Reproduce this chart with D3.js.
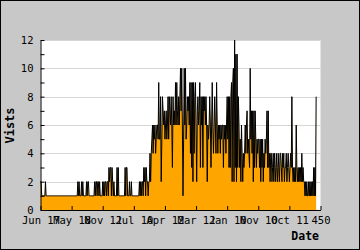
<!DOCTYPE html>
<html><head><meta charset="utf-8">
<script src="https://cdn.jsdelivr.net/npm/d3@7/dist/d3.min.js"></script>
<style>html,body{margin:0;padding:0;background:#fff}svg{display:block}</style>
</head><body>
<svg id="c" width="360" height="250"></svg>
<script>
const xTickValues = [0, 50, 100, 150, 200, 250, 300, 350, 400, 450];
const xTickLabels = ["Jun 17", "May 18", "Nov 12", "Jul 10", "Apr 12", "Mar 12", "Jan 10", "Nov 10", "Oct 11", "450"];
const yTicks = [0, 2, 4, 6, 8, 10, 12];
const yMinorTicks = [1, 3, 5, 7, 9, 11];
const xTitle = "Date";
const yTitle = "Vists";
const visits = [
  2,2,1,1,1,1,1,1,2,1,
  1,1,1,1,1,1,1,1,1,1, 1,1,1,1,1,1,1,1,1,1, 1,1,1,1,1,1,1,1,1,1, 1,1,1,1,1,1,1,1,1,1, 1,1,1,1,1,1,1,1,1,1,
  2,1,2,1,1, 1,2,1,2,1,1, 1,1,1, 2,1,2,2,1,1, 1,1,1,1,1,1,1,
  2,1,2,2,1,2,2,1,2,1, 1,1,1, 2,1,2,1,2,2,1,2,2,1,
  3,2,3,3,1,3,2, 1,2,1,1,1,1, 3,1,3,1, 1,1,1,1,1,1,1,1,1,
  3,1,3,3,1,1, 1, 2,1,1,2,1,1, 1,1,1,1,1,1,1,1,1,1,
  2,1,2,1,2,2,1, 3,2,3,1,3,2, 2,1,2, 2,4,2,4,
  5,6,4,6,5,6,4,5,6, 6,5,9,5, 5,8,2,5,8,7, 6,7,5,6,7,5,6,8,5, 8,
  7,6,8,6,3,8,6,7,6, 9,6,9,7, 6,8,6,8, 10,7,10, 6,1,5, 10,6,10,
  5,6,8,7,8,6, 9,4,9,3,9,2,9,4,8, 9,6,2,7,8,6,7, 9,
  3,8,6,8,3,8,7,8,6, 8,6,2,6,5,6,8, 6,3,6,9, 6,4,6,8,6,4,9,6,4,
  6,5,6,4,6,5,6,6,3,6,5,6,4,6, 8,5,8,3,8, 3,8,9,2,9, 10,2,12,3,
  11,2,11,3,8, 6,3,5,2,6, 4,2,4,3,4, 6,4,6,7,4,5, 4,3, 10,5,
  7,4,7,2,7,3,7, 5,3,5,4,5, 5,3,5,2,5,3,5,2, 4,3,5,4,5, 7,3,7,3, 4,2,4,
  4,2,3,4,2,4,3,2,4,3,2,4,3,2,4, 4,3,2,4,3,4,2,3, 3,4,2,3,4,3,2,3,4,3,
  8,3,2, 3,2,3,2,6, 3,2,3,2,3,2,3,2, 4,2,3,2,
  2,1,2,1,2,1,1,2,1,2, 1,2,1,2,1,3,1,3, 1,8
];

const svg = d3.select("#c");
const W = 360, H = 250;
const L = 40.5, R = 320.5, T = 40, B = 210;
const mono = "'DejaVu Sans Mono', monospace";

svg.append("rect").attr("x",0.5).attr("y",0.5).attr("width",W-1).attr("height",H-1)
  .attr("fill","#c8c8c8").attr("stroke","#000").attr("stroke-width",1);
svg.append("rect").attr("x",L).attr("y",T).attr("width",R-L).attr("height",B-T).attr("fill","#fff");

const x = d3.scaleLinear().domain([0,450]).range([L,R]);
const y = d3.scaleLinear().domain([0,12]).range([B,T]);

// grid
svg.append("g").selectAll("line").data(yTicks.filter(v=>v>0)).join("line")
  .attr("x1",L).attr("x2",R).attr("y1",d=>Math.round(y(d))+0.5).attr("y2",d=>Math.round(y(d))+0.5)
  .attr("stroke","#d6d6d6").attr("stroke-width",1);

const area = d3.area().x((d,i)=>x(i)).y0(y(0)).y1(d=>y(d)).curve(d3.curveLinear);
const line = d3.line().x((d,i)=>x(i)).y(d=>y(d)).curve(d3.curveLinear);
svg.append("path").datum(visits).attr("d",area).attr("fill","#ffa500");
svg.append("path").datum(visits).attr("d",line).attr("fill","none").attr("stroke","#000").attr("stroke-width",1);

// y axis
const yAxis = d3.axisLeft(y).tickValues(yTicks.concat(yMinorTicks)).tickSizeInner(-4).tickSizeOuter(0).tickPadding(7)
  .tickFormat(d=>yTicks.includes(d)?String(d):"");
const gy = svg.append("g").attr("transform",`translate(${L},0)`).call(yAxis);
gy.selectAll("text").attr("font-family",mono).attr("font-size","10.5px").attr("fill","#000");
gy.selectAll("line,path").attr("stroke","#000");

// x axis
const xAxis = d3.axisBottom(x).tickValues(xTickValues).tickSizeInner(-4).tickSizeOuter(0).tickPadding(7)
  .tickFormat((d,i)=>xTickLabels[i]);
const gx = svg.append("g").attr("transform",`translate(0,${B})`).call(xAxis);
gx.selectAll("text").attr("font-family",mono).attr("font-size","10.5px").attr("fill","#000");
gx.selectAll("line,path").attr("stroke","#000");

// titles
svg.append("text").attr("x",319).attr("y",240).attr("text-anchor","end")
  .attr("font-family",mono).attr("font-weight","bold").attr("font-size","11.5px").text(xTitle);
svg.append("text").attr("transform","translate(14,125.5) rotate(-90)").attr("text-anchor","middle")
  .attr("font-family",mono).attr("font-weight","bold").attr("font-size","12px").text(yTitle);
</script>
</body></html>
